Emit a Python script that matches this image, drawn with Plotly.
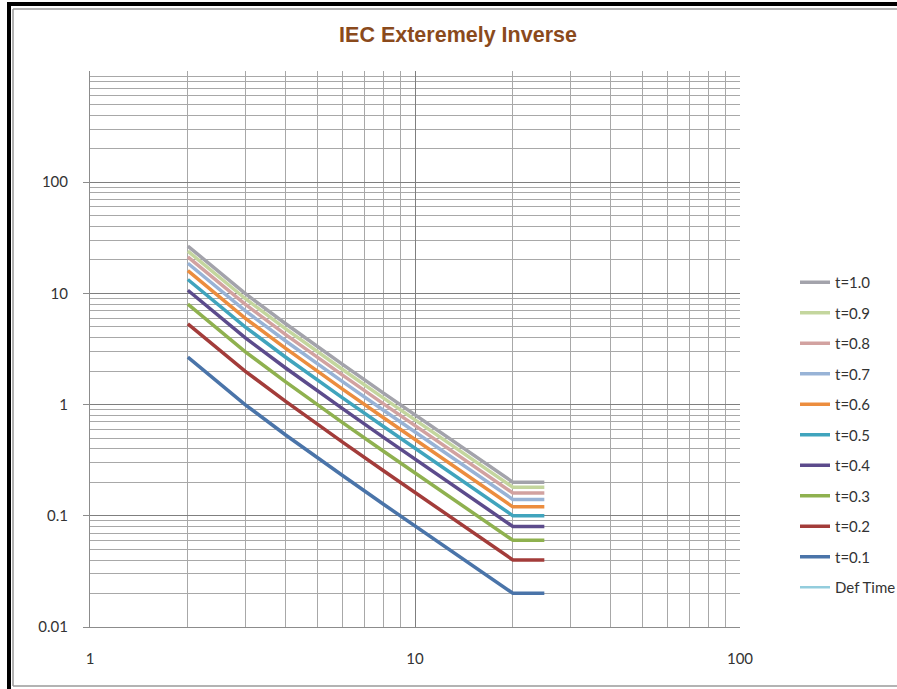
import plotly.graph_objects as go

# multiple of pickup current (M)
current = [2, 3, 4, 5, 6, 8, 10, 15, 20, 25]

# operating time (s) for each time multiplier
t_01 = [2.67, 1.00, 0.533, 0.333, 0.229, 0.127, 0.0808, 0.0357, 0.0201, 0.0201]
t_02 = [5.33, 2.00, 1.067, 0.667, 0.457, 0.254, 0.162, 0.0714, 0.0401, 0.0401]
t_03 = [8.00, 3.00, 1.60, 1.00, 0.686, 0.381, 0.242, 0.107, 0.0602, 0.0602]
t_04 = [10.67, 4.00, 2.133, 1.333, 0.914, 0.508, 0.323, 0.143, 0.0802, 0.0802]
t_05 = [13.33, 5.00, 2.667, 1.667, 1.143, 0.635, 0.404, 0.179, 0.1003, 0.1003]
t_06 = [16.0, 6.0, 3.2, 2.0, 1.371, 0.762, 0.485, 0.214, 0.1203, 0.1203]
t_07 = [18.67, 7.0, 3.733, 2.333, 1.6, 0.889, 0.566, 0.25, 0.1404, 0.1404]
t_08 = [21.33, 8.0, 4.267, 2.667, 1.829, 1.016, 0.646, 0.286, 0.1604, 0.1604]
t_09 = [24.0, 9.0, 4.8, 3.0, 2.057, 1.143, 0.727, 0.321, 0.1805, 0.1805]
t_10 = [26.67, 10.0, 5.333, 3.333, 2.286, 1.27, 0.808, 0.357, 0.2005, 0.2005]

series_names = ["t=1.0", "t=0.9", "t=0.8", "t=0.7", "t=0.6",
                "t=0.5", "t=0.4", "t=0.3", "t=0.2", "t=0.1"]
series_values = [t_10, t_09, t_08, t_07, t_06, t_05, t_04, t_03, t_02, t_01]
colors = ["#a3a3ab", "#c4d69e", "#d2a2a0", "#98b3d6", "#ec8d3e",
          "#40a4bd", "#5c4b8c", "#8fb14f", "#a33c3a", "#4a74a9"]

y_ticks = [0.01, 0.1, 1, 10, 100]
y_ticktext = ["0.01", "0.1", "1", "10", "100"]
x_ticks = [1, 10, 100]
x_ticktext = ["1", "10", "100"]

minor_y = [m * 10 ** e for e in range(-2, 3) for m in range(2, 10)]
minor_x = [m * 10 ** e for e in range(0, 2) for m in range(2, 10)]

fig = go.Figure()
for name, vals, col in zip(series_names, series_values, colors):
    fig.add_trace(go.Scatter(x=current, y=vals, name=name, mode="lines",
                             legendgroup=name,
                             line=dict(color=col, width=3.5)))
# definite time series has no visible points
fig.add_trace(go.Scatter(x=[None], y=[None], name="Def Time", mode="lines",
                         legendgroup="def", line=dict(color="#93cddd", width=2.5)))

# plot area in pixels
L, R, T, B = 90, 740, 71, 627
W, H = 897, 689


def px(xp, yp):
    return (xp - L) / (R - L), (B - yp) / (B - T)


shapes = []
def line(x0, y0, x1, y1, color, width):
    a, b = px(x0, y0)
    c, d = px(x1, y1)
    shapes.append(dict(type="line", xref="paper", yref="paper", x0=a, y0=b, x1=c, y1=d,
                       line=dict(color=color, width=width), layer="above"))

line(9, 2, 9, 689, "black", 4)
line(7, 4, 897, 4, "black", 4)
line(13, 9, 13, 686, "#9a9a9a", 1.5)
line(13, 9, 897, 9, "#9a9a9a", 1.5)
line(13, 686, 897, 686, "#9a9a9a", 1.5)

fig.update_layout(
    width=W, height=H,
    margin=dict(l=L, r=W - R, t=T, b=H - B, autoexpand=False),
    paper_bgcolor="white", plot_bgcolor="white",
    title=dict(text="<b>IEC Exteremely Inverse</b>", x=458 / W, xanchor="center",
               y=1 - 34 / H, yanchor="middle", yref="container",
               font=dict(family="Liberation Sans, Arial", size=21.5, color="#8a4a1c")),
    font=dict(family="Lato, Open Sans, sans-serif", size=15, color="#333333"),
    legend=dict(xref="container", yref="container", x=795 / W, xanchor="left",
                y=1 - 266 / H, yanchor="top",
                tracegroupgap=8, itemwidth=30, bgcolor="rgba(0,0,0,0)",
                font=dict(size=15, color="#333333")),
    shapes=shapes,
    showlegend=True,
)
fig.update_xaxes(type="log", range=[0, 2], tickvals=x_ticks, ticktext=x_ticktext,
                 showgrid=True, gridcolor="#7f7f7f", gridwidth=1,
                 minor=dict(tickvals=minor_x, showgrid=True, gridcolor="#a8a8a8", gridwidth=1),
                 showline=True, linecolor="#8c8c8c", ticks="", ticklabelstandoff=18,
                 zeroline=False)
fig.update_yaxes(type="log", range=[-2, 3], tickvals=y_ticks, ticktext=y_ticktext,
                 showgrid=True, gridcolor="#7f7f7f", gridwidth=1,
                 minor=dict(tickvals=minor_y, showgrid=True, gridcolor="#a8a8a8", gridwidth=1),
                 showline=True, linecolor="#8c8c8c", ticks="outside", ticklen=6,
                 tickcolor="#8c8c8c", ticklabelstandoff=12, zeroline=False)

fig.write_html("out.html",
               config={"responsive": False, "displayModeBar": False},
               post_script="document.body.style.margin='0';document.body.style.overflow='hidden';")
